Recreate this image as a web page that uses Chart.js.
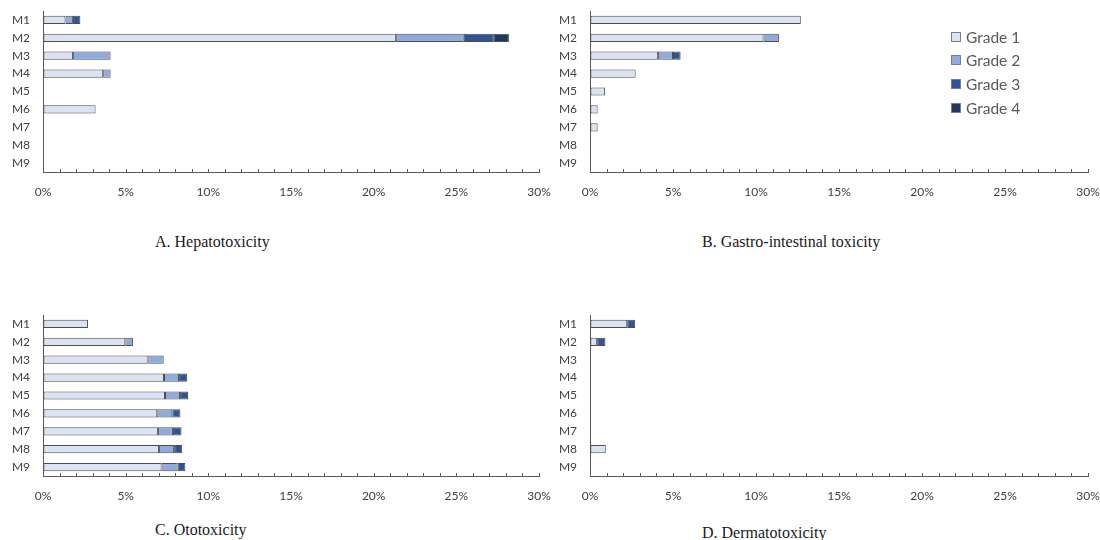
<!DOCTYPE html>
<html>
<head>
<meta charset="utf-8">
<script src="https://cdn.jsdelivr.net/npm/chart.js@4.4.1/dist/chart.umd.min.js"></script>
<style>
  html, body { margin: 0; padding: 0; background: #fff; }
  body { width: 1100px; height: 540px; position: relative; overflow: hidden; }
  .panel { position: absolute; }
  .title { position: absolute; font-family: "Liberation Serif", serif; font-size: 16px; line-height: 16px; color: #1a1a1a; white-space: nowrap; }
  .legend-item { position: absolute; display: flex; align-items: center; white-space: nowrap;
                 font-family: Lato, sans-serif; font-size: 15.5px; line-height: 18px; color: #595959; }
  .swatch { width: 8px; height: 8px; border: 1px solid #7f7f7f; margin-right: 5px; }
</style>
</head>
<body>
<div class="panel" id="boxA"><canvas id="chartA"></canvas></div>
<div class="panel" id="boxB"><canvas id="chartB"></canvas></div>
<div class="panel" id="boxC"><canvas id="chartC"></canvas></div>
<div class="panel" id="boxD"><canvas id="chartD"></canvas></div>
<div id="legend"></div>

<script>
// Regimens on the category axis
const categories = ['M1', 'M2', 'M3', 'M4', 'M5', 'M6', 'M7', 'M8', 'M9'];

// Toxicity grades and their fills
const gradeLabels = ['Grade 1', 'Grade 2', 'Grade 3', 'Grade 4'];
const gradeColors = ['#DAE3F3', '#8FAADC', '#2F5597', '#203864'];

// Percentage axis
const axisMin = 0;
const axisMax = 30;
const labelStep = 5;
const minorStep = 1;

// A. Hepatotoxicity (% of patients per grade)
const hepG1 = [1.36, 21.36, 1.82, 3.64, 0, 3.18, 0, 0, 0];
const hepG2 = [0.45, 4.09, 2.27, 0.45, 0, 0, 0, 0, 0];
const hepG3 = [0.45, 1.82, 0, 0, 0, 0, 0, 0, 0];
const hepG4 = [0, 0.91, 0, 0, 0, 0, 0, 0, 0];

// B. Gastro-intestinal toxicity
const giG1 = [12.70, 10.45, 4.09, 2.75, 0.91, 0.46, 0.46, 0, 0];
const giG2 = [0, 0.93, 0.91, 0, 0, 0, 0, 0, 0];
const giG3 = [0, 0, 0.46, 0, 0, 0, 0, 0, 0];
const giG4 = [0, 0, 0, 0, 0, 0, 0, 0, 0];

// C. Ototoxicity
const otoG1 = [2.72, 4.98, 6.37, 7.32, 7.38, 6.91, 6.95, 7.02, 7.17];
const otoG2 = [0, 0.46, 0.93, 0.91, 0.91, 0.91, 0.91, 0.91, 0.97];
const otoG3 = [0, 0, 0, 0.49, 0.48, 0.49, 0.52, 0.49, 0.47];
const otoG4 = [0, 0, 0, 0, 0, 0, 0, 0, 0];

// D. Dermatotoxicity
const derG1 = [2.24, 0.43, 0, 0, 0, 0, 0, 0.95, 0];
const derG2 = [0, 0, 0, 0, 0, 0, 0, 0, 0];
const derG3 = [0.48, 0.50, 0, 0, 0, 0, 0, 0, 0];
const derG4 = [0, 0, 0, 0, 0, 0, 0, 0, 0];

const panelTitles = ['A. Hepatotoxicity', 'B. Gastro-intestinal toxicity', 'C. Ototoxicity', 'D. Dermatotoxicity'];

const AXIS_COLOR = '#595959';
const TEXT_COLOR = '#404040';
const FONT = { family: 'Lato, sans-serif', size: 12 };
const LABEL_GAP = 13;

// Small upward tick marks every 1% along the bottom axis
const insideTicks = {
  id: 'insideTicks',
  afterDraw(chart) {
    const xs = chart.scales.x;
    const ctx = chart.ctx;
    const y = Math.round(chart.chartArea.bottom);
    ctx.save();
    ctx.strokeStyle = AXIS_COLOR;
    ctx.lineWidth = 1;
    ctx.beginPath();
    for (let v = axisMin + minorStep; v <= axisMax + 1e-9; v += minorStep) {
      const x = Math.round(xs.getPixelForValue(v)) + 0.5;
      ctx.moveTo(x, y);
      ctx.lineTo(x, y - 3);
    }
    ctx.stroke();
    ctx.restore();
  }
};

// Invisible tick marks give the gap between axis line and labels
const hiddenGrid = {
  display: true, drawOnChartArea: false, drawTicks: true,
  tickLength: LABEL_GAP, color: 'rgba(0,0,0,0)', tickColor: 'rgba(0,0,0,0)'
};

function makePanel(canvasId, boxId, series, box) {
  const holder = document.getElementById(boxId);
  holder.style.left = box.left + 'px';
  holder.style.top = box.top + 'px';
  const canvas = document.getElementById(canvasId);
  canvas.width = box.width;
  canvas.height = box.height;
  canvas.style.width = box.width + 'px';
  canvas.style.height = box.height + 'px';

  return new Chart(canvas, {
    type: 'bar',
    data: {
      labels: categories,
      datasets: gradeLabels.map((g, i) => ({
        label: g,
        data: series[i],
        backgroundColor: gradeColors[i],
        borderColor: '#4d4d4d',
        borderWidth: 1,
        borderSkipped: false,
        barPercentage: 0.46,
        categoryPercentage: 1
      }))
    },
    options: {
      indexAxis: 'y',
      responsive: false,
      animation: false,
      devicePixelRatio: 1,
      layout: { padding: { top: 11, right: box.padRight, left: 0, bottom: 0 } },
      plugins: { legend: { display: false }, tooltip: { enabled: false } },
      scales: {
        x: {
          type: 'linear', min: axisMin, max: axisMax, stacked: true,
          ticks: { stepSize: labelStep, callback: v => v + '%', font: FONT, color: TEXT_COLOR,
                   padding: 0, maxRotation: 0, autoSkip: false },
          grid: hiddenGrid,
          border: { display: true, color: AXIS_COLOR, width: 1 },
          afterFit: s => { s.height = 30; }
        },
        y: {
          type: 'category', stacked: true,
          ticks: { font: FONT, color: TEXT_COLOR, padding: 0, autoSkip: false },
          grid: hiddenGrid,
          border: { display: true, color: AXIS_COLOR, width: 1 },
          afterFit: s => { s.width = box.yWidth; }
        }
      }
    },
    plugins: [insideTicks]
  });
}

makePanel('chartA', 'boxA', [hepG1, hepG2, hepG3, hepG4], { left: 0, top: 0, width: 552, height: 202, yWidth: 43, padRight: 13 });
makePanel('chartB', 'boxB', [giG1, giG2, giG3, giG4], { left: 547, top: 0, width: 553, height: 202, yWidth: 43, padRight: 12 });
makePanel('chartC', 'boxC', [otoG1, otoG2, otoG3, otoG4], { left: 0, top: 304, width: 552, height: 202, yWidth: 43, padRight: 13 });
makePanel('chartD', 'boxD', [derG1, derG2, derG3, derG4], { left: 547, top: 304, width: 553, height: 202, yWidth: 43, padRight: 12 });

// Panel captions
const titlePos = [[155, 234], [702, 234], [155, 522], [702, 525]];
panelTitles.forEach((t, i) => {
  const d = document.createElement('div');
  d.className = 'title';
  d.textContent = t;
  d.style.left = titlePos[i][0] + 'px';
  d.style.top = titlePos[i][1] + 'px';
  document.body.appendChild(d);
});

// Grade legend, drawn beside panel B
const legend = document.getElementById('legend');
gradeLabels.forEach((g, i) => {
  const item = document.createElement('div');
  item.className = 'legend-item';
  item.style.left = '951px';
  item.style.top = (36.5 + i * 23.8 - 9) + 'px';
  const sw = document.createElement('span');
  sw.className = 'swatch';
  sw.style.background = gradeColors[i];
  const tx = document.createElement('span');
  tx.textContent = g;
  item.appendChild(sw);
  item.appendChild(tx);
  legend.appendChild(item);
});
</script>
</body>
</html>
